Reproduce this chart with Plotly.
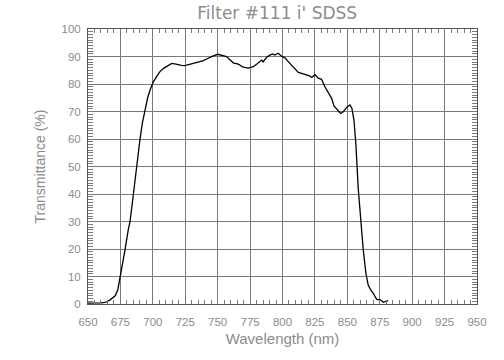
import plotly.graph_objects as go

wavelength = [650, 655, 660, 663, 665, 667, 669, 671, 673, 675, 676, 678.5, 681, 682.4, 684,
              686.2, 688.8, 690, 692, 694, 696, 698, 700.4, 703, 705.5, 708, 710.7, 714.5, 717,
              719.6, 722, 724.8, 728, 731.2, 734, 736.4, 739, 741.5, 744, 746.6, 750, 752, 754.3,
              756.9, 759, 762, 765.9, 769.7, 773.6, 777.4, 780, 781.3, 783.9, 785, 787.8, 790.3,
              792.4, 794, 796.7, 799.3, 801.9, 805.5, 809.6, 812.2, 816, 821.2, 822.5, 825, 827.6,
              830.1, 832.7, 835.3, 837.9, 839.7, 841.7, 844.8, 846.9, 849.4, 852, 853.5, 855.1,
              856.6, 858.4, 860.2, 862.3, 864.3, 866.1, 868, 870, 872.6, 875.6, 877.7, 879.8, 881.5]
transmittance = [0.3, 0.3, 0.4, 0.6, 0.9, 1.5, 2.2, 3.0, 5.2, 10, 13, 19.6, 26.9, 30, 36,
                 45, 55, 59.6, 66, 71.2, 75, 78, 80.8, 82.8, 84.5, 85.6, 86.5, 87.5, 87.3,
                 87, 86.8, 86.7, 87.1, 87.4, 87.6, 87.9, 88.5, 89.1, 89.7, 90.2, 90.8, 90.5, 90.3,
                 90, 89, 87.7, 87.2, 86.1, 85.8, 86.3, 87.2, 87.6, 88.7, 88.0, 89.7, 90.5,
                 90.9, 90.5, 91.2, 90.1, 89.5, 87.6, 85.7, 84.2, 83.7, 82.9, 82.4, 83.4, 82.1,
                 81.7, 79, 76.8, 74.8, 72, 70.8, 69.3, 69.9, 71.5, 72.4, 71.2, 66.9,
                 58, 42, 30, 19.6, 11.2, 6.9, 5.1, 3.9, 1.7, 1.5, 0.6, 0.8, 1.2]

x_ticks = list(range(650, 951, 25))
y_ticks = list(range(0, 101, 10))

txt = "#8c8c8c"
grid = "#787878"
fam = "Liberation Sans"

fig = go.Figure(go.Scatter(x=wavelength, y=transmittance, mode="lines",
                           line=dict(color="black", width=1.3), showlegend=False))

fig.update_layout(
    width=504, height=360,
    margin=dict(l=88, r=27, t=29, b=56),
    paper_bgcolor="white", plot_bgcolor="white",
    font=dict(family=fam, color=txt, size=12),
    title=dict(text="Filter #111 i' SDSS", x=0.55, xanchor="center",
               yref="container", y=0.964, yanchor="middle",
               font=dict(size=17, color=txt, family="DejaVu Sans")),
)
fig.update_xaxes(
    range=[650, 950], tickvals=x_ticks, ticktext=[str(v) for v in x_ticks],
    showgrid=True, gridcolor=grid, gridwidth=1,
    showline=True, linecolor="#555", linewidth=1, mirror="ticks",
    ticks="inside", ticklen=0, tickcolor=grid,
    minor=dict(dtick=5, tick0=650, ticks="inside", ticklen=4, tickcolor=grid, showgrid=False),
    title=dict(text="Wavelength (nm)", standoff=6, font=dict(size=15)),
    zeroline=False, tickfont=dict(size=11.5), automargin=False, ticklabelstandoff=7,
)
fig.update_yaxes(
    range=[0, 100], tickvals=y_ticks, ticktext=[str(v) for v in y_ticks],
    showgrid=True, gridcolor=grid, gridwidth=1,
    showline=True, linecolor="#555", linewidth=1, mirror="ticks",
    ticks="inside", ticklen=0, tickcolor=grid,
    minor=dict(dtick=1, tick0=0, ticks="inside", ticklen=5, tickcolor=grid, showgrid=False),
    title=dict(text="Transmittance (%)", standoff=12, font=dict(size=14)),
    zeroline=False, tickfont=dict(size=11.5), automargin=False, ticklabelstandoff=4,
)

fig.write_html("out.html", config={"displayModeBar": False},
               post_script="document.body.style.margin='0';")
